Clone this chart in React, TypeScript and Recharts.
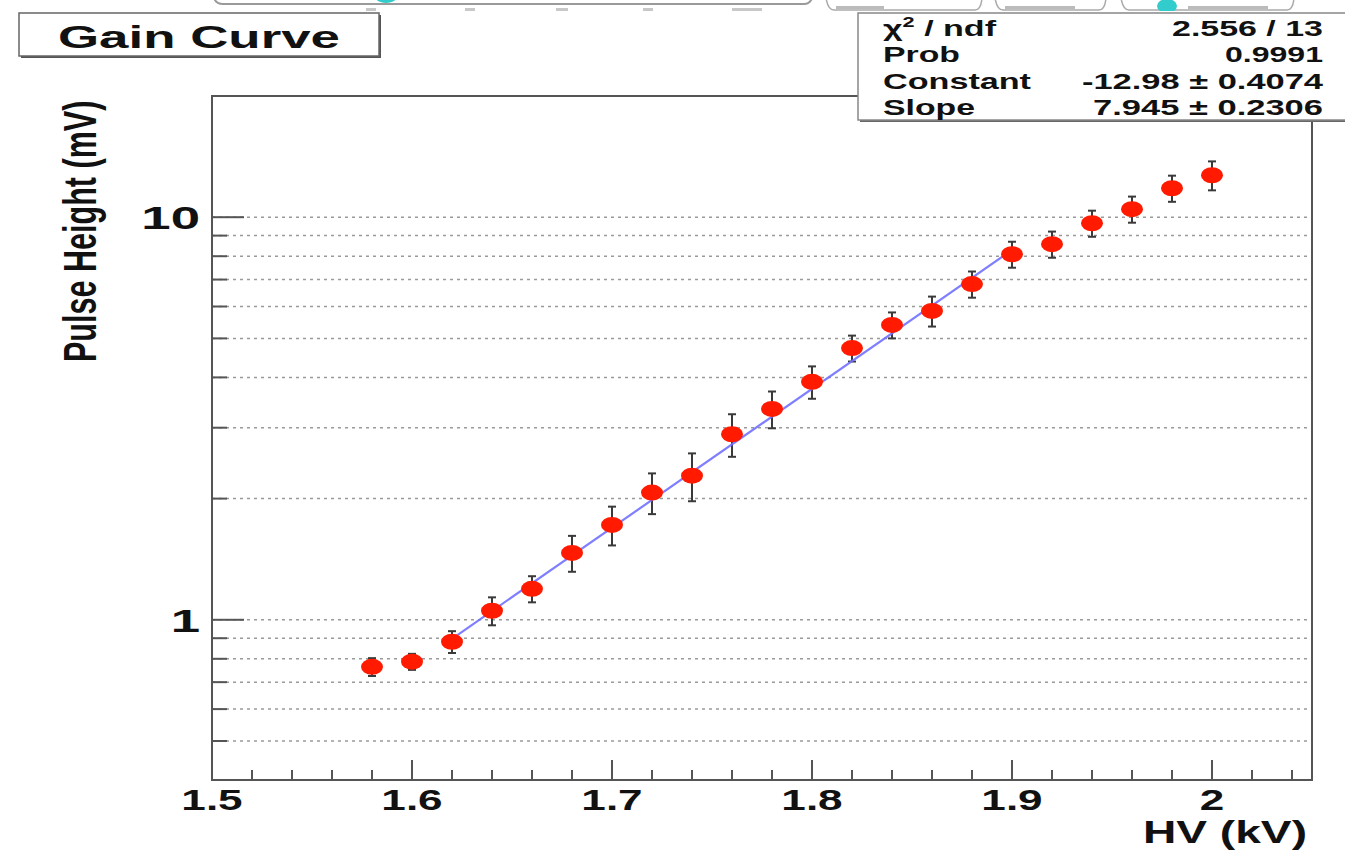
import React from 'react';
import {
  ComposedChart,
  Scatter,
  Line,
  XAxis,
  YAxis,
  CartesianGrid,
  ErrorBar,
  ReferenceArea,
} from 'recharts';

// ---- data ----
const hvValues = [1.58, 1.6, 1.62, 1.64, 1.66, 1.68, 1.7, 1.72, 1.74, 1.76, 1.78, 1.8, 1.82, 1.84, 1.86, 1.88, 1.9, 1.92, 1.94, 1.96, 1.98, 2.0];
const pulseHeights = [0.764, 0.787, 0.882, 1.053, 1.194, 1.466, 1.72, 2.07, 2.28, 2.89, 3.34, 3.9, 4.73, 5.4, 5.85, 6.82, 8.09, 8.57, 9.66, 10.47, 11.8, 12.71];
const pulseErrors = [0.039, 0.036, 0.055, 0.084, 0.089, 0.15, 0.19, 0.24, 0.31, 0.35, 0.35, 0.36, 0.35, 0.4, 0.5, 0.51, 0.6, 0.64, 0.72, 0.78, 0.88, 1.05];

// exponential fit (drawn as a straight segment on the log axis)
const fitHv = [1.62, 1.9];
const fitPulse = [0.897, 8.29];

// ticks
const xTicks = [1.5, 1.52, 1.54, 1.56, 1.58, 1.6, 1.62, 1.64, 1.66, 1.68, 1.7, 1.72, 1.74, 1.76, 1.78, 1.8, 1.82, 1.84, 1.86, 1.88, 1.9, 1.92, 1.94, 1.96, 1.98, 2.0, 2.02, 2.04];
const xMajorTicks = [1.5, 1.6, 1.7, 1.8, 1.9, 2.0];
const xMajorLabels = ['1.5', '1.6', '1.7', '1.8', '1.9', '2'];
const yTicks = [0.5, 0.6, 0.7, 0.8, 0.9, 1, 2, 3, 4, 5, 6, 7, 8, 9, 10];
const yMajorTicks = [1, 10];
const yMajorLabels = ['1', '10'];

const xDomain = [1.5, 2.05];
const yDomain = [0.4, 20];

// stats box
const statLabels = ['χ', 'Prob', 'Constant', 'Slope'];
const statValues = ['2.556 / 13', '0.9991', '-12.98 ± 0.4074', '7.945 ± 0.2306'];

const FONT = "'Liberation Sans', Arial, Helvetica, sans-serif";

const points = hvValues.map((h, i) => ({ hv: h, ph: pulseHeights[i], err: pulseErrors[i] }));
const fitData = fitHv.map((h, i) => ({ hv: h, fit: fitPulse[i] }));

const XTick = (props: any) => {
  const { x, y, payload } = props;
  const v = payload.value as number;
  const idx = xMajorTicks.findIndex((m) => Math.abs(m - v) < 1e-6);
  const major = idx >= 0;
  return (
    <g>
      <line x1={x} x2={x} y1={y} y2={y - (major ? 20 : 10)} stroke="#555" strokeWidth={2} />
      {major && (
        <text
          transform={`translate(${x},${y + 30}) scale(1.52,1)`}
          textAnchor="middle"
          fontSize={29}
          fontWeight="bold"
          fontFamily={FONT}
          fill="#111"
        >
          {xMajorLabels[idx]}
        </text>
      )}
    </g>
  );
};

const YTick = (props: any) => {
  const { x, y, payload } = props;
  const v = payload.value as number;
  const idx = yMajorTicks.findIndex((m) => Math.abs(m - v) < 1e-9);
  const major = idx >= 0;
  return (
    <g>
      <line x1={x} x2={x + (major ? 32 : 15)} y1={y} y2={y} stroke="#555" strokeWidth={2} />
      {major && (
        <text
          transform={`translate(${x - 12},${y + 12}) scale(1.65,1)`}
          textAnchor="end"
          fontSize={32}
          fontWeight="bold"
          fontFamily={FONT}
          fill="#111"
        >
          {yMajorLabels[idx]}
        </text>
      )}
    </g>
  );
};

const Marker = (props: any) => {
  const { cx, cy } = props;
  if (cx == null || cy == null) return null;
  return <ellipse cx={cx} cy={cy} rx={11} ry={8} fill="#ff1a00" />;
};

const Overlay = () => {
  const rowBase = [36, 62, 89, 115];
  const labelW = [113, 77, 148, 92];
  const valueW = [151, 98, 241, 230];
  return (
    <svg
      width={1345}
      height={851}
      style={{ position: 'absolute', left: 0, top: 0, pointerEvents: 'none' }}
    >
      <defs>
        <clipPath id="topStrip">
          <rect x={0} y={0} width={1345} height={11} />
        </clipPath>
      </defs>
      {/* top strip fragments (cut-off remains of another panel) */}
      <g clipPath="url(#topStrip)">
        <path d="M 214 -2 Q 216 4 223 4 L 804 4 Q 810 4 812 -2" fill="none" stroke="#9a9a9a" strokeWidth={2} />
        <ellipse cx={386} cy={-2} rx={10} ry={5} fill="#33cccc" />
        <path d="M 826 -2 Q 828 10 834 10 L 975 10 Q 981 10 982 -2" fill="none" stroke="#aaa" strokeWidth={1.5} />
        <path d="M 995 -2 Q 997 10 1003 10 L 1099 10 Q 1105 10 1106 -2" fill="none" stroke="#aaa" strokeWidth={1.5} />
        <path d="M 1121 -2 Q 1123 10 1129 10 L 1287 10 Q 1293 10 1294 -2" fill="none" stroke="#aaa" strokeWidth={1.5} />
        <ellipse cx={1167} cy={6} rx={10} ry={7} fill="#33cccc" />
        {[[836, 48], [1005, 70], [1188, 80]].map(([fx, fw], i) => (
          <rect key={'f' + i} x={fx} y={6} width={fw} height={3} fill="#bbb" />
        ))}
        {[[366, 10], [465, 10], [556, 12], [643, 10], [732, 30]].map(([fx, fw], i) => (
          <rect key={'g' + i} x={fx} y={8} width={fw} height={3} fill="#c8c8c8" />
        ))}
      </g>

      {/* title box */}
      <rect x={21} y={15} width={360} height={43} fill="#555" />
      <rect x={19} y={13} width={360} height={43} fill="#fff" stroke="#666" strokeWidth={1.5} />
      <text
        x={58}
        y={48}
        fontSize={32}
        fontWeight="bold"
        fontFamily={FONT}
        fill="#111"
        textLength={282}
        lengthAdjust="spacingAndGlyphs"
      >
        Gain Curve
      </text>

      {/* stats box */}
      <rect x={860} y={15} width={500} height={107} fill="#666" />
      <rect x={858} y={13} width={500} height={107} fill="#fff" stroke="#888" strokeWidth={1.5} />
      {statLabels.map((lab, i) => (
        <text
          key={'l' + i}
          x={883}
          y={rowBase[i]}
          fontSize={22}
          fontWeight="bold"
          fontFamily={FONT}
          fill="#111"
          textLength={labelW[i]}
          lengthAdjust="spacingAndGlyphs"
        >
          {i === 0 ? (
            <>
              {lab}
              <tspan fontSize={14} dy={-9}>2</tspan>
              <tspan dy={9}> / ndf</tspan>
            </>
          ) : (
            lab
          )}
        </text>
      ))}
      {statValues.map((val, i) => (
        <text
          key={'v' + i}
          x={1323 - valueW[i]}
          y={rowBase[i]}
          fontSize={22}
          fontWeight="bold"
          fontFamily={FONT}
          fill="#111"
          textLength={valueW[i]}
          lengthAdjust="spacingAndGlyphs"
        >
          {val}
        </text>
      ))}

      {/* axis titles */}
      <text
        transform="translate(96,362) rotate(-90) scale(0.65,1)"
        fontSize={47}
        fontWeight="bold"
        fontFamily={FONT}
        fill="#111"
      >
        Pulse Height (mV)
      </text>
      <text
        x={1143}
        y={843}
        fontSize={31}
        fontWeight="bold"
        fontFamily={FONT}
        fill="#111"
        textLength={164}
        lengthAdjust="spacingAndGlyphs"
      >
        HV (kV)
      </text>
    </svg>
  );
};

export default function App() {
  return (
    <div
      style={{
        position: 'absolute',
        left: 0,
        top: 0,
        width: 1345,
        height: 851,
        background: '#fff',
        overflow: 'hidden',
        fontFamily: FONT,
      }}
    >
      <ComposedChart
        width={1345}
        height={851}
        data={points}
        margin={{ top: 96, right: 33, bottom: 21, left: 112 }}
      >
        <CartesianGrid vertical={false} stroke="#9a9a9a" strokeWidth={1.5} strokeDasharray="3 4" />
        <XAxis
          type="number"
          dataKey="hv"
          domain={xDomain}
          ticks={xTicks}
          interval={0}
          allowDataOverflow
          axisLine={false}
          tickLine={false}
          tickSize={0}
          tickMargin={0}
          height={50}
          tick={<XTick />}
        />
        <YAxis
          type="number"
          scale="log"
          domain={yDomain}
          ticks={yTicks}
          interval={0}
          allowDataOverflow
          axisLine={false}
          tickLine={false}
          tickSize={0}
          tickMargin={0}
          width={100}
          tick={<YTick />}
        />
        <ReferenceArea
          x1={xDomain[0]}
          x2={xDomain[1]}
          y1={yDomain[0]}
          y2={yDomain[1]}
          fill="none"
          fillOpacity={0}
          stroke="#555"
          strokeWidth={2}
          ifOverflow="visible"
        />
        <Scatter dataKey="ph" shape={<Marker />} isAnimationActive={false}>
          <ErrorBar dataKey="err" direction="y" width={4} stroke="#3a3a3a" strokeWidth={2} isAnimationActive={false} />
        </Scatter>
        <Line
          data={fitData}
          dataKey="fit"
          type="linear"
          stroke="#7070ff"
          strokeOpacity={0.9}
          strokeWidth={2.2}
          dot={false}
          activeDot={false}
          isAnimationActive={false}
        />
      </ComposedChart>
      <Overlay />
    </div>
  );
}
